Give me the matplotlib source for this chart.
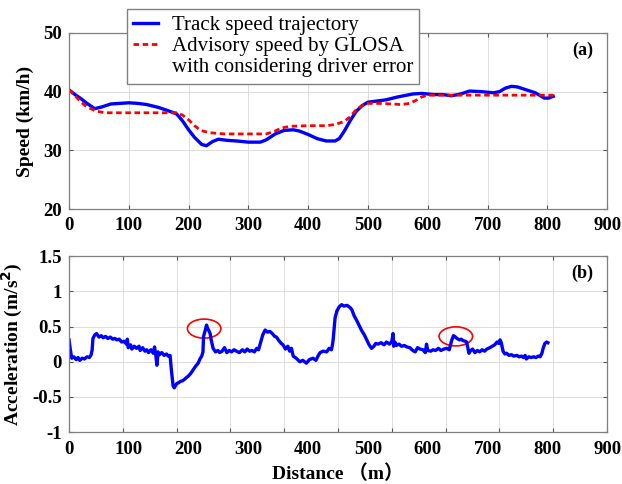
import matplotlib
matplotlib.use('Agg')
import matplotlib.pyplot as plt
from matplotlib.lines import Line2D
from matplotlib.patches import Ellipse
import numpy as np

plt.rcParams['font.family'] = ['Liberation Serif', 'Noto Sans CJK SC']

# (a) speed
dist_track = [0, 10, 20, 30, 43, 55, 70, 85, 100, 115, 130, 150, 170, 180, 190, 200, 210, 222, 230,
              240, 250, 265, 280, 300, 320, 330, 345, 360, 375, 385, 400, 415, 430, 445, 452, 460,
              470, 480, 490, 500, 515, 530, 550, 575, 590, 610, 625, 640, 655, 670, 690, 710, 720,
              730, 740, 750, 765, 780, 795, 802, 810]
speed_track = [40.3, 39.5, 38.8, 38.0, 37.1, 37.4, 37.9, 38.0, 38.1, 38.0, 37.8, 37.3, 36.6, 36.2,
               35.0, 33.5, 32.2, 31.0, 30.8, 31.5, 31.9, 31.7, 31.6, 31.4, 31.4, 31.8, 32.8, 33.4,
               33.5, 33.3, 32.7, 32.0, 31.6, 31.6, 32.0, 33.2, 35.0, 36.6, 37.6, 38.2, 38.4, 38.6,
               39.1, 39.6, 39.7, 39.5, 39.5, 39.3, 39.6, 40.1, 40.0, 39.8, 40.0, 40.6, 40.9, 40.8,
               40.3, 39.8, 38.9, 38.9, 39.2]

dist_advisory = [0, 10, 20, 30, 45, 60, 100, 150, 180, 190, 200, 210, 220, 235, 260, 300, 330, 345,
                 355, 370, 400, 430, 445, 460, 470, 480, 490, 500, 520, 540, 555, 570, 580, 590,
                 600, 650, 700, 750, 810]
speed_advisory = [40.3, 39.3, 38.2, 37.4, 36.7, 36.4, 36.4, 36.4, 36.4, 36.0, 35.2, 34.2, 33.4,
                  33.0, 32.8, 32.8, 32.8, 33.3, 33.8, 34.1, 34.2, 34.2, 34.4, 34.9, 35.7, 36.9,
                  37.6, 38.0, 38.0, 37.9, 37.8, 38.0, 38.5, 39.1, 39.4, 39.4, 39.4, 39.4, 39.4]

# (b) acceleration
dist_acc = [0, 2, 4.5, 8, 12, 15, 18, 22, 26, 30, 34, 37, 38.5,
            40, 43, 46, 50, 54, 57, 61, 65, 69, 73, 77, 80, 84, 88, 92, 96, 97.5, 99, 103, 105,
            109, 113, 117, 119, 123, 127, 130, 133, 137, 141, 143, 145, 147, 149, 151, 155, 159,
            163, 166, 169,
            171, 174, 176, 180, 183, 186, 190, 193, 197, 200, 204, 208, 212, 216, 219, 222, 224,
            225, 227, 230, 232, 234, 236, 238, 241, 245, 249, 252, 256,
            260, 264, 268, 272, 276, 280, 285, 290, 294, 298, 302, 306, 310, 314, 317, 320, 324,
            328, 332, 336, 340, 344, 347, 351, 355, 358, 362, 366, 369, 372, 375, 380, 386, 391,
            397, 402, 408, 413, 417, 420, 425, 431, 435, 439,
            441, 442, 445, 448, 452, 456, 460, 465, 470, 473, 477, 481, 485, 489, 494, 498, 502,
            506, 510, 513, 517, 522,
            527, 531, 536, 540, 542, 543, 545, 547, 552, 556, 561, 565, 570, 575, 579, 583, 587,
            592, 596, 598, 600, 605, 609, 613, 618, 622, 627, 632, 636,
            640, 643, 645, 649, 653, 656, 659, 663, 665, 667, 669, 671, 675, 679, 683, 687, 691,
            695, 699, 704, 708, 712, 716, 719, 721, 723, 726, 729, 732, 736, 740, 744, 749, 753,
            757, 760, 763, 765, 769, 773, 777, 781, 785, 788, 791, 793, 796, 799, 801]
accel = [0.31, 0.18, 0.05, 0.07, 0.03, 0.06, 0.02, 0.05, 0.04, 0.07, 0.06, 0.10, 0.16,
         0.33, 0.38, 0.40, 0.35, 0.37, 0.34, 0.36, 0.33, 0.35, 0.32, 0.33, 0.31, 0.32, 0.28, 0.29,
         0.25, 0.32, 0.20, 0.24, 0.18, 0.22, 0.19, 0.22, 0.16, 0.20, 0.15, 0.17, 0.13, 0.17, 0.12,
         0.21, 0.10, -0.05, 0.14, 0.10, 0.13, 0.09, 0.11, 0.08, 0.09,
         -0.10, -0.34, -0.37, -0.31, -0.30, -0.28, -0.27, -0.25, -0.22, -0.20, -0.16, -0.11,
         -0.06, -0.02, 0.04, 0.08, 0.14, 0.36, 0.42, 0.52, 0.47, 0.44, 0.40, 0.30, 0.19, 0.14,
         0.16, 0.13, 0.15,
         0.20, 0.13, 0.16, 0.14, 0.17, 0.15, 0.13, 0.17, 0.14, 0.18, 0.15, 0.16, 0.14, 0.19, 0.17,
         0.26, 0.38, 0.45, 0.42, 0.43, 0.40, 0.36, 0.35, 0.30, 0.26, 0.24, 0.18, 0.22, 0.15, 0.19,
         0.08, 0.05, 0.00, 0.02, -0.02, 0.03, 0.05, 0.02, 0.09, 0.13, 0.15, 0.14, 0.19, 0.17,
         0.26, 0.33, 0.62, 0.72, 0.78, 0.81, 0.79, 0.80, 0.77, 0.74, 0.65, 0.59, 0.52, 0.45, 0.38,
         0.31, 0.24, 0.19, 0.22, 0.26, 0.25, 0.27,
         0.24, 0.28, 0.25, 0.29, 0.40, 0.22, 0.28, 0.23, 0.25, 0.22, 0.23, 0.21, 0.20, 0.16, 0.14,
         0.20, 0.18, 0.17, 0.13, 0.25, 0.16, 0.15, 0.17, 0.16, 0.19, 0.16, 0.18, 0.19, 0.17,
         0.30, 0.37, 0.36, 0.33, 0.31, 0.32, 0.30, 0.29, 0.28, 0.20, 0.12, 0.15, 0.18, 0.13, 0.16,
         0.14, 0.17, 0.15, 0.18, 0.20, 0.22, 0.24, 0.28, 0.26, 0.31, 0.27, 0.15, 0.11, 0.12, 0.09,
         0.10, 0.08, 0.09, 0.07, 0.08, 0.06, 0.09, 0.04, 0.07, 0.06, 0.07, 0.06, 0.08, 0.07, 0.12,
         0.19, 0.26, 0.28, 0.27]

# circled points (centre distance, centre acceleration)
circle_x = [226, 647]
circle_y = [0.47, 0.36]

x_labels = [0, 100, 200, 300, 400, 500, 600, 700, 800, 900]

fig = plt.figure(figsize=(6.22, 4.84), dpi=100)
ax1 = fig.add_axes([0.111, 0.568, 0.865, 0.364])
ax2 = fig.add_axes([0.111, 0.107, 0.865, 0.364])

TICK_FS = 13.5


def style(ax):
    for s in ax.spines.values():
        s.set_color('#7f7f7f')
        s.set_linewidth(0.9)
    ax.tick_params(which='both', direction='in', top=True, right=True, length=3,
                   color='#555555', labelsize=TICK_FS)
    ax.tick_params(axis='x', which='both', pad=6)
    ax.tick_params(axis='y', which='both', pad=5)
    ax.grid(True, color='#dddddd', linewidth=0.7)
    ax.set_axisbelow(True)
    for lab in ax.get_xticklabels(which='both') + ax.get_yticklabels():
        lab.set_fontweight('bold')


ax1.plot(dist_track, speed_track, color='#0000ff', lw=2.4)
ax1.plot(dist_advisory, speed_advisory, color='#ff0000', lw=2.0, ls=(0, (2, 1.3)))
ax1.set_xlim(0, 900)
ax1.set_ylim(20, 50)
ax1.set_xticks(x_labels)
ax1.set_yticks([20, 30, 40, 50])
style(ax1)
ax1.set_ylabel('Speed (km/h)', fontsize=14, fontweight='bold', labelpad=7)
ax1.text(0.975, 0.9, '(a)', transform=ax1.transAxes, ha='right', va='center',
         fontsize=13, fontweight='bold')

handles = [Line2D([], [], color='#0000ff', lw=2.4),
           Line2D([], [], color='#ff0000', lw=2.0, ls=(0, (2, 1.3))),
           Line2D([], [], ls='none')]
leg = ax1.legend(handles, ['Track speed trajectory', 'Advisory speed by GLOSA',
                           'with considering driver error'],
                 loc='upper left', bbox_to_anchor=(127 / 622, 1 - 9 / 484),
                 bbox_transform=fig.transFigure, borderaxespad=0, fancybox=False,
                 framealpha=1, edgecolor='#808080', fontsize=15, handlelength=1.2,
                 handletextpad=0.65, labelspacing=0.08, borderpad=0.3)
leg.get_frame().set_linewidth(1.0)
leg.set_zorder(10)

ax2.plot(dist_acc, accel, color='#0000ff', lw=2.4)
for cx, cy in zip(circle_x, circle_y):
    ax2.add_patch(Ellipse((cx, cy), 56, 0.27, fill=False, edgecolor='#ff0000', lw=1.2))
ax2.set_xlim(0, 900)
ax2.set_ylim(-1, 1.5)
# grid/tick marks split the axis in 10 while labels are spread over 9
ax2.xaxis.remove_overlapping_locs = False
ax2.set_xticks(np.linspace(0, 900, 11))
ax2.set_xticklabels([])
ax2.set_xticks(x_labels, minor=True)
ax2.set_xticklabels([str(v) for v in x_labels], minor=True)
ax2.set_yticks([-1, -0.5, 0, 0.5, 1, 1.5])
ax2.set_yticklabels(['-1', '-0.5', '0', '0.5', '1', '1.5'])
style(ax2)
ax2.tick_params(axis='x', which='minor', length=0)
ax2.set_ylabel('Acceleration (m/s$^\\mathbf{2}$)', fontsize=14, fontweight='bold', labelpad=5)
ax2.set_xlabel('Distance （m）', fontsize=14, fontweight='bold', labelpad=5)
ax2.text(0.975, 0.9, '(b)', transform=ax2.transAxes, ha='right', va='center',
         fontsize=13, fontweight='bold')

fig.savefig('out.png', dpi=100)
